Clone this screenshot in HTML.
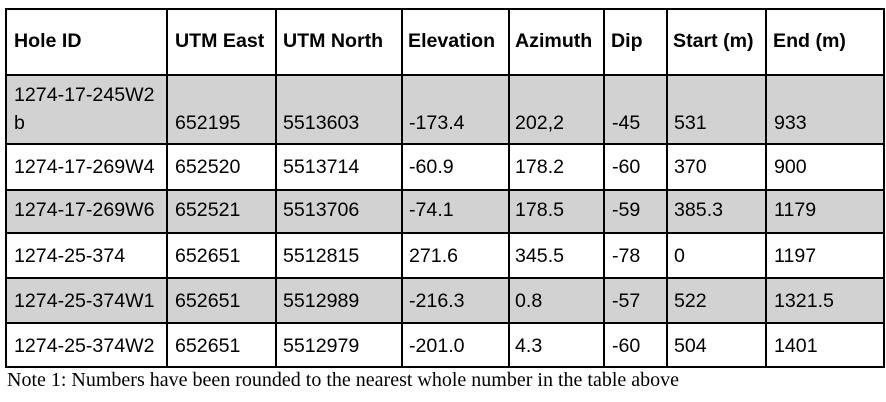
<!DOCTYPE html>
<html>
<head>
<meta charset="utf-8">
<style>
  html, body { margin:0; padding:0; }
  body { width:886px; height:402px; background:#fff; position:relative; overflow:hidden; }
  .g { position:absolute; left:5px; width:880px; background:#d2d2d2; }
  .h { position:absolute; left:5px; width:880px; height:2px; background:#000; }
  .v { position:absolute; top:8px; width:2px; height:360px; background:#000; }
  .t { position:absolute; font-family:"Liberation Sans", Arial, sans-serif; font-size:19.6px; line-height:20px; color:#000; white-space:nowrap; }
  .b { font-weight:bold; color:#000; }
  .note { position:absolute; left:7px; top:370px; font-family:"Liberation Serif", "Times New Roman", serif; font-size:20px; line-height:20px; color:#000; white-space:nowrap; }
</style>
</head>
<body>
  <!-- gray rows -->
  <div class="g" style="top:74px;height:70px;"></div>
  <div class="g" style="top:189px;height:44px;"></div>
  <div class="g" style="top:277px;height:45px;"></div>

  <!-- horizontal lines -->
  <div class="h" style="top:8px"></div>
  <div class="h" style="top:74px"></div>
  <div class="h" style="top:143px"></div>
  <div class="h" style="top:189px"></div>
  <div class="h" style="top:232px"></div>
  <div class="h" style="top:277px"></div>
  <div class="h" style="top:322px"></div>
  <div class="h" style="top:366px"></div>

  <!-- vertical lines -->
  <div class="v" style="left:5px"></div>
  <div class="v" style="left:166px"></div>
  <div class="v" style="left:275px"></div>
  <div class="v" style="left:401px"></div>
  <div class="v" style="left:508px"></div>
  <div class="v" style="left:603px"></div>
  <div class="v" style="left:666px"></div>
  <div class="v" style="left:765px"></div>
  <div class="v" style="left:883px"></div>

  <!-- header -->
  <div class="t b" style="left:14px;top:31px">Hole ID</div>
  <div class="t b" style="left:175px;top:31px">UTM East</div>
  <div class="t b" style="left:283px;top:31px">UTM North</div>
  <div class="t b" style="left:408px;top:31px">Elevation</div>
  <div class="t b" style="left:515px;top:31px">Azimuth</div>
  <div class="t b" style="left:611px;top:31px">Dip</div>
  <div class="t b" style="left:673px;top:31px">Start (m)</div>
  <div class="t b" style="left:773px;top:31px">End (m)</div>

  <!-- row 1 -->
  <div class="t" style="left:14px;top:85px">1274-17-245W2</div>
  <div class="t" style="left:14px;top:113px">b</div>
  <div class="t" style="left:175px;top:113px">652195</div>
  <div class="t" style="left:283px;top:113px">5513603</div>
  <div class="t" style="left:409px;top:113px">-173.4</div>
  <div class="t" style="left:515px;top:113px">202,2</div>
  <div class="t" style="left:612px;top:113px">-45</div>
  <div class="t" style="left:674px;top:113px">531</div>
  <div class="t" style="left:774px;top:113px">933</div>

  <!-- row 2 -->
  <div class="t" style="left:14px;top:157px">1274-17-269W4</div>
  <div class="t" style="left:175px;top:157px">652520</div>
  <div class="t" style="left:283px;top:157px">5513714</div>
  <div class="t" style="left:409px;top:157px">-60.9</div>
  <div class="t" style="left:515px;top:157px">178.2</div>
  <div class="t" style="left:612px;top:157px">-60</div>
  <div class="t" style="left:674px;top:157px">370</div>
  <div class="t" style="left:774px;top:157px">900</div>

  <!-- row 3 -->
  <div class="t" style="left:14px;top:200px">1274-17-269W6</div>
  <div class="t" style="left:175px;top:200px">652521</div>
  <div class="t" style="left:283px;top:200px">5513706</div>
  <div class="t" style="left:409px;top:200px">-74.1</div>
  <div class="t" style="left:515px;top:200px">178.5</div>
  <div class="t" style="left:612px;top:200px">-59</div>
  <div class="t" style="left:674px;top:200px">385.3</div>
  <div class="t" style="left:774px;top:200px">1179</div>

  <!-- row 4 -->
  <div class="t" style="left:14px;top:246px">1274-25-374</div>
  <div class="t" style="left:175px;top:246px">652651</div>
  <div class="t" style="left:283px;top:246px">5512815</div>
  <div class="t" style="left:409px;top:246px">271.6</div>
  <div class="t" style="left:515px;top:246px">345.5</div>
  <div class="t" style="left:612px;top:246px">-78</div>
  <div class="t" style="left:674px;top:246px">0</div>
  <div class="t" style="left:774px;top:246px">1197</div>

  <!-- row 5 -->
  <div class="t" style="left:14px;top:291px">1274-25-374W1</div>
  <div class="t" style="left:175px;top:291px">652651</div>
  <div class="t" style="left:283px;top:291px">5512989</div>
  <div class="t" style="left:409px;top:291px">-216.3</div>
  <div class="t" style="left:515px;top:291px">0.8</div>
  <div class="t" style="left:612px;top:291px">-57</div>
  <div class="t" style="left:674px;top:291px">522</div>
  <div class="t" style="left:774px;top:291px">1321.5</div>

  <!-- row 6 -->
  <div class="t" style="left:14px;top:336px">1274-25-374W2</div>
  <div class="t" style="left:175px;top:336px">652651</div>
  <div class="t" style="left:283px;top:336px">5512979</div>
  <div class="t" style="left:409px;top:336px">-201.0</div>
  <div class="t" style="left:515px;top:336px">4.3</div>
  <div class="t" style="left:612px;top:336px">-60</div>
  <div class="t" style="left:674px;top:336px">504</div>
  <div class="t" style="left:774px;top:336px">1401</div>

  <div class="note">Note 1: Numbers have been rounded to the nearest whole number in the table above</div>
</body>
</html>
